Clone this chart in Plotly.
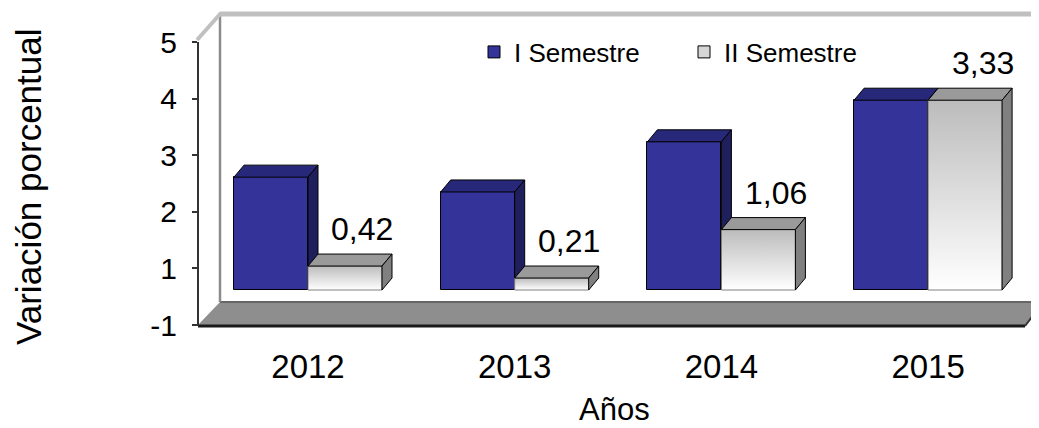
import plotly.graph_objects as go

# ---------------- data ----------------
years = ["2012", "2013", "2014", "2015"]
sem1 = [1.98, 1.72, 2.60, 3.33]          # I Semestre
sem2 = [0.42, 0.21, 1.06, 3.33]          # II Semestre
sem2_labels = ["0,42", "0,21", "1,06", "3,33"]
series_names = ["I Semestre", "II Semestre"]
ytick_labels = ["-1", "1", "2", "3", "4", "5"]
x_title = "Años"
y_title = "Variación porcentual"

# ---------------- geometry / style ----------------
OFF = 8                                  # default page body margin
W, H = 1039 - OFF, 428 - OFF
L, R, T, B = 198, 1025, 10, 327          # plot area in reference pixels
X0PX, PXX = 308.0, 206.7                 # category 0 centre, px per category
Y0PX, PXY = 290.0, 57.0                  # value 0 pixel, px per unit
BW = 74 / PXX                            # bar width (data units)
DX, DY = 10 / PXX, 12 / PXY              # 3-D depth offset
TICK_TOP_PX, TICK_BOT_PX = 42, 325       # value-axis tick extent (pixels)

xr = [(L - X0PX) / PXX, (R - X0PX) / PXX]
yr = [(Y0PX - B) / PXY, (Y0PX - T) / PXY]

def xp(px):
    return (px - L) / (R - L)

def yp(py):
    return (B - py) / (B - T)

FONT = "Arial, Liberation Sans, sans-serif"
BLUE, BLUE_TOP, BLUE_SIDE = "#333399", "#28287a", "#1f1f5e"
GREY_TOP, GREY_SIDE = "#9a9a9a", "#808080"

idx = list(range(len(years)))
fig = go.Figure()

# front faces as bars
fig.add_trace(go.Bar(
    x=idx, y=sem1, name=series_names[0], width=BW, offset=-BW,
    marker=dict(color=BLUE, line=dict(color="#000000", width=1)),
    hoverinfo="skip"))
fig.add_trace(go.Bar(
    x=idx, y=sem2, name=series_names[1], width=BW, offset=0,
    marker=dict(color="#d6d6d6", line=dict(color="#000000", width=1)),
    hoverinfo="skip"))

def faces(i, v, x0, top_col, side_col, front_grad=False):
    x1 = x0 + BW
    if front_grad:
        fig.add_trace(go.Scatter(
            x=[x0, x1, x1, x0, x0], y=[0, 0, v, v, 0], mode="lines",
            fill="toself", line=dict(color="#808080", width=1),
            fillgradient=dict(type="vertical",
                              colorscale=[[0, "#ffffff"], [1, "#bcbcbc"]]),
            showlegend=False, hoverinfo="skip"))
    # top face
    fig.add_trace(go.Scatter(
        x=[x0, x1, x1 + DX, x0 + DX, x0], y=[v, v, v + DY, v + DY, v],
        mode="lines", fill="toself", fillcolor=top_col,
        line=dict(color="#000000", width=1), showlegend=False, hoverinfo="skip"))
    # side face
    fig.add_trace(go.Scatter(
        x=[x1, x1 + DX, x1 + DX, x1, x1], y=[0, DY, v + DY, v, 0],
        mode="lines", fill="toself", fillcolor=side_col,
        line=dict(color="#000000", width=1), showlegend=False, hoverinfo="skip"))

for i in idx:
    faces(i, sem1[i], i - BW, BLUE_TOP, BLUE_SIDE)
for i in idx:
    faces(i, sem2[i], i, GREY_TOP, GREY_SIDE, front_grad=True)

# data labels
annotations = []
for i in idx:
    annotations.append(dict(
        x=i + BW / 2 + DX / 2 + 0.06, y=sem2[i] + DY, xref="x", yref="y",
        text=sem2_labels[i], showarrow=False, yanchor="bottom", yshift=5,
        font=dict(family=FONT, size=32, color="#000000")))

annotations.append(dict(
    x=xp(28), y=yp(187), xref="paper", yref="paper", text=y_title,
    textangle=-90, showarrow=False, xanchor="center", yanchor="middle",
    font=dict(family=FONT, size=35, color="#000000")))
annotations.append(dict(
    x=xp(614), y=yp(409), xref="paper", yref="paper", text=x_title,
    showarrow=False, xanchor="center", yanchor="middle",
    font=dict(family=FONT, size=31, color="#000000")))

# walls / floor decorations
shapes = [
    # floor
    dict(type="path", xref="paper", yref="paper", layer="below",
         path=f"M {xp(198)},{yp(325)} L {xp(220)},{yp(302)} L {xp(1045)},{yp(302)} "
              f"L {xp(1025)},{yp(325)} Z",
         fillcolor="#8e8e8e", line=dict(width=0)),
    dict(type="line", xref="paper", yref="paper", layer="below",
         x0=xp(220), y0=yp(302), x1=xp(1045), y1=yp(302),
         line=dict(color="#666666", width=2)),
    dict(type="line", xref="paper", yref="paper", layer="below",
         x0=xp(198), y0=yp(326), x1=xp(1025), y1=yp(326),
         line=dict(color="#1a1a1a", width=3)),
    dict(type="line", xref="paper", yref="paper", layer="below",
         x0=xp(1025), y0=yp(326), x1=xp(1042), y1=yp(304),
         line=dict(color="#333333", width=2)),
    # back wall left edge and top
    dict(type="line", xref="paper", yref="paper", layer="below",
         x0=xp(220), y0=yp(13), x1=xp(220), y1=yp(302),
         line=dict(color="#8c8c8c", width=2.5)),
    dict(type="line", xref="paper", yref="paper", layer="below",
         x0=xp(220), y0=yp(14), x1=xp(1045), y1=yp(14),
         line=dict(color="#c0c0c0", width=5)),
    dict(type="line", xref="paper", yref="paper", layer="below",
         x0=xp(197), y0=yp(40), x1=xp(221), y1=yp(13),
         line=dict(color="#c0c0c0", width=4)),
    # value axis line
    dict(type="line", xref="paper", yref="paper", layer="above",
         x0=xp(198), y0=yp(42), x1=xp(198), y1=yp(326),
         line=dict(color="#333333", width=2)),
]

n_t = len(ytick_labels)
t_top = (Y0PX - TICK_TOP_PX) / PXY
t_bot = (Y0PX - TICK_BOT_PX) / PXY
tickvals = [t_bot + k * (t_top - t_bot) / (n_t - 1) for k in range(n_t)]

fig.update_layout(
    width=W, height=H,
    margin=dict(l=L - OFF, r=W - (R - OFF), t=T - OFF, b=H - (B - OFF), pad=0),
    paper_bgcolor="white", plot_bgcolor="white",
    barmode="overlay", bargap=0,
    showlegend=True,
    legend=dict(orientation="h", x=xp(474), y=yp(52), xanchor="left",
                yanchor="middle", bgcolor="rgba(0,0,0,0)",
                font=dict(family=FONT, size=26, color="#000000"),
                itemwidth=30, entrywidth=165, entrywidthmode="pixels",
                traceorder="normal"),
    xaxis=dict(range=xr, tickvals=idx, ticktext=years, showgrid=False,
               zeroline=False, showline=False, ticks="", ticklabelstandoff=17,
               tickfont=dict(family=FONT, size=33, color="#000000"),
               fixedrange=True),
    yaxis=dict(range=yr, tickvals=tickvals, ticktext=ytick_labels,
               showgrid=False, zeroline=False, showline=False,
               ticks="outside", ticklen=5, tickwidth=2, tickcolor="#333333",
               ticklabelstandoff=9,
               tickfont=dict(family=FONT, size=30, color="#000000"),
               fixedrange=True),
    annotations=annotations, shapes=shapes,
)

fig.write_html("out.html")
